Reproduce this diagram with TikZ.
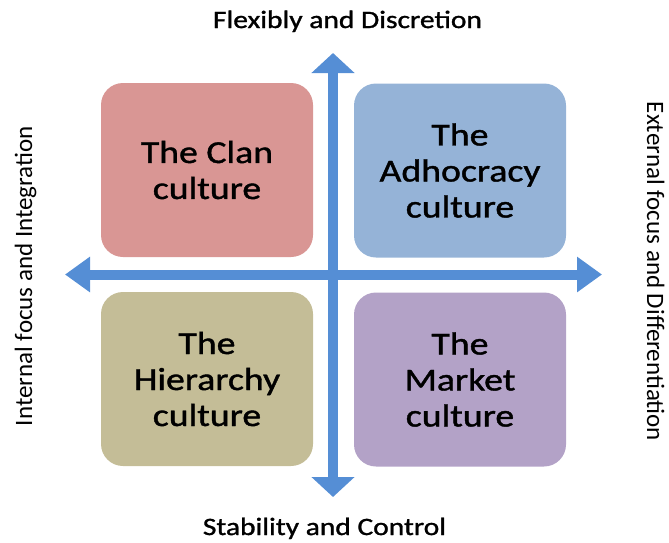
\documentclass[tikz,border=0pt]{standalone}
\usepackage{fontspec}
\setmainfont{Carlito}
\newfontfamily\wideCarlito{Carlito}[FakeStretch=1.18,FakeBold=1.2]
\usetikzlibrary{arrows.meta}

\definecolor{clanred}{HTML}{D99694}
\definecolor{adhocblue}{HTML}{95B3D7}
\definecolor{hierkhaki}{HTML}{C4BD97}
\definecolor{marketlilac}{HTML}{B3A2C7}
\definecolor{axisblue}{HTML}{558ED5}

\tikzset{
	culture/.style={rounded corners=22pt, minimum width=212pt, minimum height=174pt, align=center, inner sep=0pt,
		font=\wideCarlito\fontsize{32}{36}\selectfont},
	axis/.style={draw=axisblue, line width=10pt},
	dimlabel/.style={font=\fontsize{25}{30}\selectfont, inner sep=0pt, anchor=base}
}

\begin{document}
\begin{tikzpicture}[x=1pt,y=-1pt]
		\useasboundingbox (0,0) rectangle (669,542);
		
		\node[culture, fill=clanred] (Clan) at (207,170) {The Clan\\culture};
		\node[culture, fill=adhocblue] (Adhoc) at (460,170.5) {The\\Adhocracy\\culture};
		\node[culture, fill=hierkhaki] (Hier) at (207,379) {The\\Hierarchy\\culture};
		\node[culture, fill=marketlilac] (Market) at (460,379.5) {The\\Market\\culture};
		
		\coordinate (N) at (333,53);
		\coordinate (S) at (333,497);
		\coordinate (W) at (65,274.5);
		\coordinate (E) at (602,274.5);
		
		\draw[axis, {Triangle[width=42pt,length=20pt]}-{Triangle[width=42pt,length=20pt]}] (S) -- (N);
		\draw[axis, {Triangle[width=34pt,length=25pt]}-{Triangle[width=34pt,length=25pt]}] (W) -- (E);
		
		\node[dimlabel, font=\wideCarlito\fontsize{25}{30}\selectfont] (flex) at (347.5,28) {Flexibly and Discretion};
		\node[dimlabel, font=\wideCarlito\fontsize{25}{30}\selectfont] (stab) at (324.5,535) {Stability and Control};
		\node[dimlabel, rotate=90] (internal) at (32,276) {Internal focus and Integration};
		\node[dimlabel, rotate=-90] (external) at (647,271.5) {External focus and Differentiation};
\end{tikzpicture}
\end{document}
